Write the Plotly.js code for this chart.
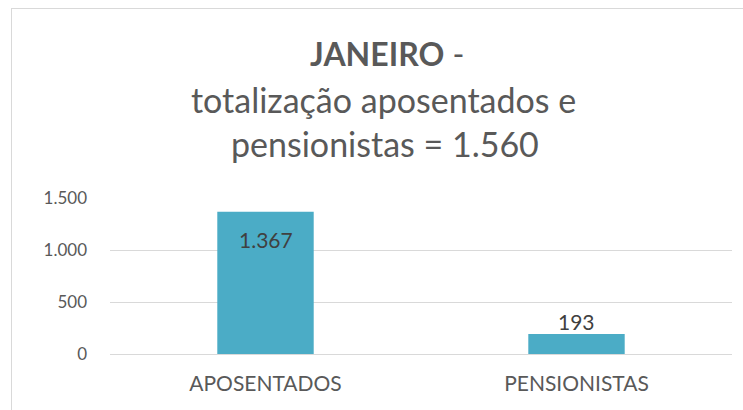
<!DOCTYPE html>
<html>
<head>
<meta charset="utf-8">
<script src="https://cdn.plot.ly/plotly-3.0.1.min.js"></script>
<style>
html,body{margin:0;padding:0;background:#fff;}
#wrap{position:relative;width:743px;height:410px;overflow:hidden;}
#frame{position:absolute;left:11px;top:8px;width:800px;height:500px;border-left:1px solid #d9d9d9;border-top:1px solid #d9d9d9;pointer-events:none;}
#chart{position:absolute;left:0;top:0;width:743px;height:410px;}
</style>
</head>
<body>
<div id="wrap"><div id="chart"></div><div id="frame"></div></div>
<script>
const categories = ["APOSENTADOS", "PENSIONISTAS"];
const values = [1367, 193];
const labelText = ["1.367", "193"];
const titleLines = ["<b>JANEIRO</b> -", "totalização aposentados e", "pensionistas = 1.560"];
const yTicks = [0, 500, 1000, 1500];

const FONT = "Lato, 'Open Sans', sans-serif";
const plotTop = 198, plotBottom = 354;
const ph = plotBottom - plotTop;
function py(p){ return (plotBottom - p) / ph; }

const titleY = [53, 99, 143];
const titleX = [0.445, 0.44, 0.442];
const titleSize = [32, 34, 34];
const annotations = titleLines.map((t, i) => ({
  text: t, xref: 'paper', yref: 'paper', x: titleX[i], y: py(titleY[i]),
  xanchor: 'center', yanchor: 'middle', showarrow: false,
  font: {family: FONT, size: titleSize[i], color: '#595959'}
}));
const shifts = [-28, 12];
categories.forEach((c, i) => {
  annotations.push({
    text: labelText[i], x: c, y: values[i], xref: 'x', yref: 'y',
    yanchor: 'middle', yshift: shifts[i], showarrow: false,
    font: {family: FONT, size: 21, color: '#404040'}
  });
});

Plotly.newPlot('chart', [{
  type: 'bar', x: categories, y: values,
  marker: {color: '#4BACC6'}, hoverinfo: 'skip'
}], {
  width: 743, height: 410,
  margin: {l: 110, r: 11, t: plotTop, b: 410 - plotBottom, pad: 0},
  paper_bgcolor: '#fff', plot_bgcolor: '#fff',
  separators: ',.',
  bargap: 0.69,
  showlegend: false,
  xaxis: {
    tickfont: {family: FONT, size: 21, color: '#595959'},
    showgrid: false, zeroline: false, showline: false, ticks: '',
    ticklabelstandoff: 15
  },
  yaxis: {
    range: [0, 1500], tickvals: yTicks, tickformat: ',d',
    tickfont: {family: FONT, size: 17, color: '#595959'},
    showgrid: true, gridcolor: '#d9d9d9', gridwidth: 1,
    zeroline: true, zerolinecolor: '#d9d9d9', zerolinewidth: 1,
    showline: false, ticks: '', ticklabelstandoff: 22
  },
  annotations: annotations
}, {staticPlot: true, displayModeBar: false});
</script>
</body>
</html>
